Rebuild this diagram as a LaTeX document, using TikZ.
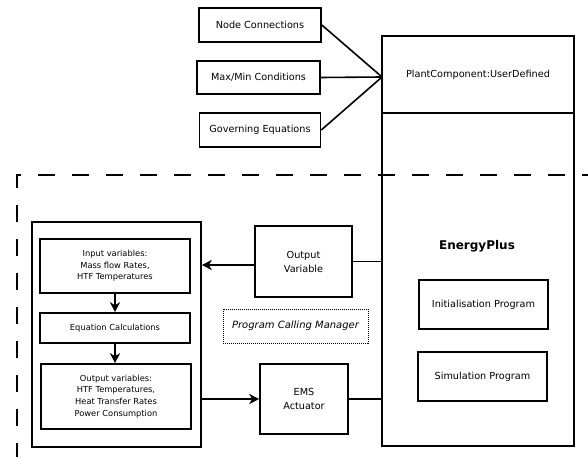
\documentclass[tikz,border=0pt]{standalone}
\usepackage{fontspec}
\setmainfont{DejaVu Sans}
\usetikzlibrary{arrows.meta}
\begin{document}
\begin{tikzpicture}[x=1pt,y=-1pt,
  box/.style={draw, line width=1.6pt, inner sep=0pt, align=center, font=\fontsize{9.7}{14}\selectfont},
  smallbox/.style={box, font=\fontsize{8.3}{11.7}\selectfont},
  plain/.style={inner sep=0pt, align=center, font=\fontsize{9.7}{14}\selectfont},
  conn/.style={line width=1.6pt},
  arr/.style={line width=1.6pt, -{Stealth[length=10pt,width=10pt,inset=3pt]}},
  dotbox/.style={draw, line width=1pt, dash pattern=on 1pt off 1pt, inner sep=0pt, font=\fontsize{10}{12}\selectfont\itshape}
  ]
\useasboundingbox (0,0) rectangle (588,457);
% top inputs
\node[box, minimum width=122pt, minimum height=34pt] (nc) at (260,25) {Node Connections};
\node[box, minimum width=123pt, minimum height=33pt] (mm) at (258.5,77.5) {Max/Min Conditions};
\node[box, minimum width=121pt, minimum height=34pt] (ge) at (260,130) {Governing Equations};
% plant component
\node[box, minimum width=192pt, minimum height=410pt] (plant) at (478,241) {};
\coordinate (divl) at (382,113);
\coordinate (divr) at (574,113);
\draw[conn] (divl) -- (divr);
\node[plain] (pctext) at (478,74.5) {PlantComponent:UserDefined};
\coordinate (conv) at (382,77);
\draw[conn] (nc.east) -- (conv);
\draw[conn] (mm.east) -- (conv);
\draw[conn] (ge.east) -- (conv);
% energyplus
\node[plain, font=\fontsize{12}{14}\selectfont\bfseries] (ep) at (477,246) {EnergyPlus};
\node[box, minimum width=129pt, minimum height=49pt] (init) at (483.5,304.5) {Initialisation Program};
\node[box, minimum width=129pt, minimum height=49pt] (sim) at (482.5,376.5) {Simulation Program};
% middle
\node[box, minimum width=97pt, minimum height=71pt] (ov) at (303.5,261.5) {Output\\Variable};
\node[dotbox, minimum width=145pt, minimum height=34pt] (pcm) at (295.5,326) {Program Calling Manager};
\node[box, minimum width=88pt, minimum height=70pt] (ems) at (304,399) {EMS\\Actuator};
% left block
\node[box, minimum width=169pt, minimum height=225pt] (big) at (116.5,334.5) {};
\node[smallbox, minimum width=150pt, minimum height=54pt] (inp) at (115,266) {Input variables:\\Mass flow Rates,\\HTF Temperatures};
\node[smallbox, minimum width=150pt, minimum height=30pt] (eq) at (115,328) {Equation Calculations};
\node[smallbox, minimum width=150pt, minimum height=65pt] (outv) at (116,396.5) {Output variables:\\HTF Temperatures,\\Heat Transfer Rates\\Power Consumption};
% connectors
\draw[arr] (inp.south) -- (eq.north);
\draw[arr] (eq.south) -- (eq.south |- outv.north);
\draw[arr] ([yshift=-3.5pt]ov.west) -- ([yshift=-3.5pt]ov.west -| big.east);
\draw[conn] (ov.east) -- (ov.east -| plant.west);
\draw[arr] (big.east |- ems.west) -- (ems.west);
\draw[conn] (ems.east) -- (ems.east -| plant.west);
% dashed boundary
\coordinate (dbl) at (17,457);
\coordinate (dtl) at (17,175);
\coordinate (dtr) at (588,175);
\draw[line width=1.6pt, dash pattern=on 17pt off 17pt, dash phase=3pt] (dbl) -- (dtl) -- (dtr);
\end{tikzpicture}
\end{document}
